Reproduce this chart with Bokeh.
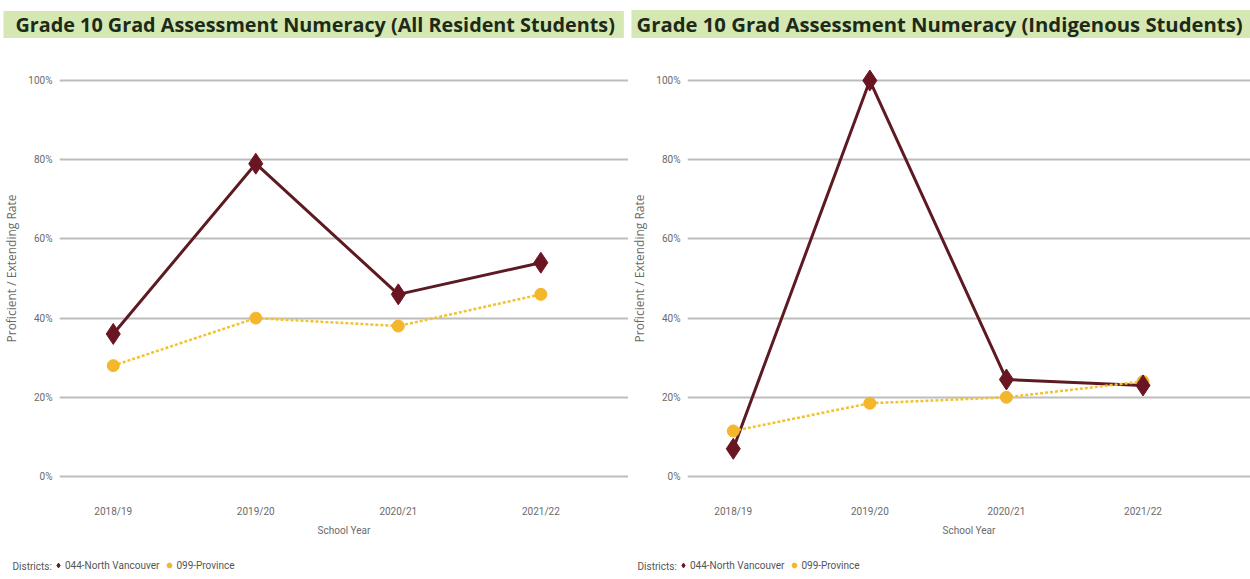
from bokeh.plotting import figure
from bokeh.models import Range1d, FixedTicker, Legend, LegendItem, Title, Label
from bokeh.layouts import row, column
from bokeh.embed import file_html
from bokeh.resources import INLINE

school_years = ["2018/19", "2019/20", "2020/21", "2021/22"]
all_nv = [36, 79, 46, 54]
all_prov = [28, 40, 38, 46]
ind_nv = [7, 100, 24.5, 23]
ind_prov = [11.5, 18.5, 20, 24]
y_ticks = [0, 20, 40, 60, 80, 100]
y_tick_labels = ["0%", "20%", "40%", "60%", "80%", "100%"]
titles = ["Grade 10 Grad Assessment Numeracy (All Resident Students)",
          "Grade 10 Grad Assessment Numeracy (Indigenous Students)"]
series_names = ["044-North Vancouver", "099-Province"]
legend_title = "Districts:"

NV_COLOR = "#5e1a22"
NV_MARK = "#6a1622"
PROV_COLOR = "#f3c230"
PROV_MARK = "#f4b62a"
LABEL_FONT = "Roboto"
BORDER_L = 56


def make(title, nv, prov, width, x_start, x_end, title_size, pad, lab_x, leg_x):
    xs = list(range(len(school_years)))
    p = figure(width=width, height=552, output_backend="svg", toolbar_location=None,
               x_range=Range1d(x_start, x_end), y_range=Range1d(-4.04, 109.1),
               min_border_left=BORDER_L, min_border_right=0,
               min_border_top=44, min_border_bottom=60)
    p.outline_line_color = None
    p.background_fill_color = "white"
    p.border_fill_color = "white"

    t = Title(text=title, align="left", offset=-BORDER_L, text_font="Open Sans",
              text_font_size=title_size, text_font_style="bold", text_color="#1e2a18",
              background_fill_color="#d5e8b4", padding=pad, standoff=13)
    p.add_layout(t, "above")

    p.line(xs, nv, line_color=NV_COLOR, line_width=3)
    p.line(xs, prov, line_color=PROV_COLOR, line_width=2.5, line_dash="3 2")
    p.scatter(xs, prov, marker="circle", size=12, fill_color=PROV_MARK, line_color=PROV_MARK)
    p.scatter(xs, nv, marker="diamond", size=21, fill_color=NV_MARK, line_color=NV_MARK)

    p.xgrid.grid_line_color = None
    p.ygrid.grid_line_color = "#bdbdbd"
    p.ygrid.grid_line_width = 2
    p.yaxis.ticker = FixedTicker(ticks=y_ticks)
    p.yaxis.major_label_overrides = dict(zip(y_ticks, y_tick_labels))
    p.xaxis.ticker = FixedTicker(ticks=xs)
    p.xaxis.major_label_overrides = dict(zip(xs, school_years))

    for ax in (p.xaxis[0], p.yaxis[0]):
        ax.axis_line_color = None
        ax.major_tick_line_color = None
        ax.minor_tick_line_color = None
        ax.major_tick_out = 0
        ax.major_tick_in = 0
        ax.minor_tick_out = 0
        ax.minor_tick_in = 0
        ax.major_label_text_font = LABEL_FONT
        ax.major_label_text_font_size = "10px"
        ax.major_label_text_color = "#6a6a6a"
        ax.axis_label_text_font_style = "normal"
        ax.axis_label_text_color = "#6a6a6a"
    p.xaxis.axis_label = "School Year"
    p.xaxis.axis_label_text_font = LABEL_FONT
    p.xaxis.axis_label_text_font_size = "10px"
    p.xaxis.major_label_standoff = 13
    p.xaxis.axis_label_standoff = 5
    p.yaxis.axis_label = "Proficient / Extending Rate"
    p.yaxis.axis_label_text_font = "Open Sans"
    p.yaxis.axis_label_text_font_size = "12px"
    p.yaxis.major_label_standoff = 7
    p.yaxis.axis_label_standoff = 5

    # legend strip below the chart (proxy markers fall outside its ranges)
    lf = figure(width=width, height=27, output_backend="svg", toolbar_location=None,
                x_axis_location=None, y_axis_location=None, min_border=0,
                x_range=Range1d(100, 101), y_range=Range1d(100, 101))
    lf.outline_line_color = None
    lf.grid.grid_line_color = None
    r_nv = lf.scatter(xs, nv, marker="diamond", size=21, fill_color=NV_MARK, line_color=NV_MARK)
    r_prov = lf.scatter(xs, prov, marker="circle", size=12, fill_color=PROV_MARK,
                        line_color=PROV_MARK)
    lf.add_layout(Label(x=lab_x, y=13, x_units="screen", y_units="screen", text=legend_title,
                        text_font=LABEL_FONT, text_font_size="10px", text_color="#555555",
                        text_baseline="middle"))
    legend = Legend(items=[LegendItem(label=series_names[0], renderers=[r_nv]),
                           LegendItem(label=series_names[1], renderers=[r_prov])],
                    orientation="horizontal", location=(leg_x, 8),
                    label_text_font=LABEL_FONT, label_text_font_size="10px",
                    label_text_color="#555555",
                    glyph_width=12, glyph_height=12, spacing=4, label_standoff=1,
                    padding=1, margin=0, border_line_color=None,
                    background_fill_alpha=0)
    lf.add_layout(legend, "center")
    return column(p, row(lf), spacing=0)


p1 = make(titles[0], all_nv, all_prov, 628, -0.377, 3.615, "19.8px", (12, 9, 0, 0), 12, 52)
p2 = make(titles[1], ind_nv, ind_prov, 622, -0.335, 3.787, "20.3px", (5, 10, 0, 0), 9, 49)
layout = row(p1, p2, spacing=0)
open("out.html", "w").write(file_html(layout, INLINE))
